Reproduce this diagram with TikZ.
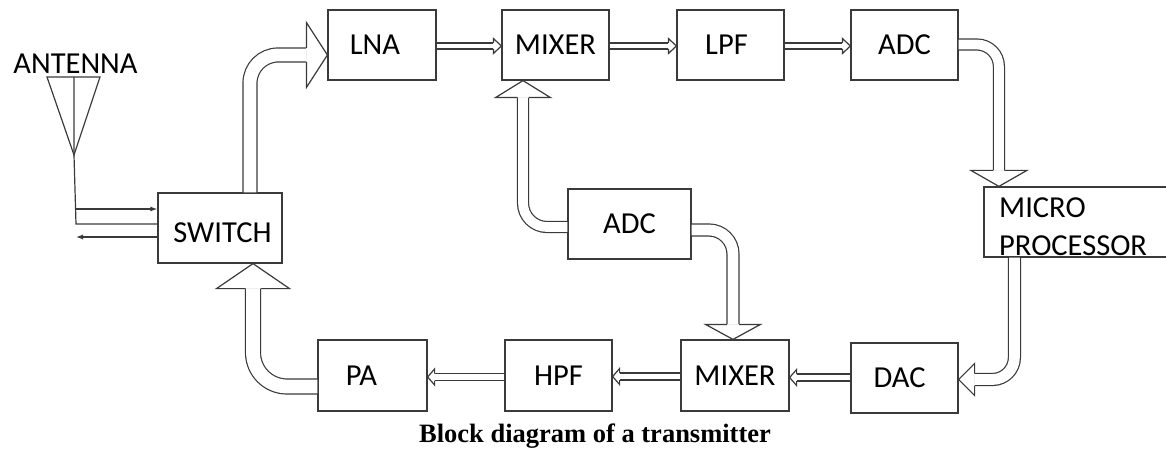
\documentclass[tikz,border=0pt]{standalone}
\usepackage{fontspec}
\setmainfont{Carlito}
\newfontfamily\capfont{Liberation Serif}
\usetikzlibrary{calc,arrows.meta}
\definecolor{lc}{HTML}{3A3A3A}
\tikzset{
  ln/.style={draw=lc, line width=1.2pt, line join=miter},
  box/.style={ln, rectangle, minimum height=70pt, inner sep=0pt, font=\fontsize{30.5}{37}\selectfont},
  lbl/.style={inner sep=0pt, font=\fontsize{30.5}{37}\selectfont},
  shaft/.style={draw=lc, line width=1.2pt, double=white, double distance=#1},
}
\newcommand\blockhead[5]{%
  \begin{scope}[shift={(#1)},rotate=#2]
    \fill[white] (0,0) -- (-#3,-#4) -- (-#3,#4) -- cycle;
    \draw[ln] (-#3,-#5) -- (-#3,-#4) -- (0,0) -- (-#3,#4) -- (-#3,#5);
  \end{scope}}
\begin{document}
\begin{tikzpicture}[x=1pt,y=-1pt]
\useasboundingbox (0,0) rectangle (1166,454);
\clip (0,0) rectangle (1166,454);
% boxes
\node[box, minimum width=108pt] (lna) at (382,45) {\kern-14pt LNA};
\node[box, minimum width=107pt] (mixa) at (555.5,45) {MIXER};
\node[box, minimum width=107pt] (lpf) at (730.5,45) {\kern-8pt LPF};
\node[box, minimum width=107pt] (adca) at (904.5,45) {ADC};
\node[box, minimum width=124pt] (sw) at (220,228) {\kern5pt\raisebox{-5pt}[\height][0pt]{SWITCH}};
\node[box, minimum width=123pt] (adcb) at (629.5,224) {ADC};
\node[box, minimum width=196pt] (mp) at (1082,222) {};
\node[lbl, anchor=base west] (mpa) at (999,218) {MICRO};
\node[lbl, anchor=base west] (mpb) at (999,255) {PROCESSOR};
\node[box, minimum width=107pt] (dac) at (904.5,378) {\kern-10pt DAC};
\node[box, minimum width=108pt, minimum height=71pt] (mixb) at (735,375.5) {MIXER};
\node[box, minimum width=107pt, minimum height=71pt] (hpf) at (558.5,375.5) {HPF};
\node[box, minimum width=109pt, minimum height=71pt] (pa) at (372.5,375.5) {\kern-22pt PA};
% antenna
\node[lbl] (antlabel) at (75.5,63.5) {ANTENNA};
\coordinate (ap) at (74,155);
\coordinate (at) at (74,77);
\coordinate (ab) at (76,224);
\coordinate (j1) at (76,209);
\coordinate (j2) at (76,237);
\draw[ln] (47,77) -- (100,77) -- (ap) -- cycle;
\draw[ln] (at) -- (ap) -- (ab) -- ($(sw.west)+(0,-4)$);
\draw[ln, -{Latex[length=7pt,width=5pt]}] (j1) -- ($(sw.west)+(0,-19)$);
\draw[ln, -{Latex[length=7pt,width=5pt]}] ($(sw.west)+(0,9)$) -- (j2);
% big block arrows
\draw[shaft=12.8pt, rounded corners=28pt, shorten >=21pt] ($(sw.north)+(30,0)$) |- ($(lna.west)+(0,10)$);
\blockhead{$(lna.west)+(0,10)$}{0}{21}{32.5}{7}
\draw[shaft=9.8pt, rounded corners=22pt, shorten >=16pt] ($(adca.east)+(0,-0.5)$) -| ($(mp.north west)+(15.5,0)$);
\blockhead{$(mp.north west)+(15.5,0)$}{-90}{16}{28}{5.5}
\draw[shaft=10.8pt, rounded corners=22pt, shorten >=16pt] ($(mp.south west)+(31,0)$) |- ($(dac.east)+(0,1.5)$);
\blockhead{$(dac.east)+(0,1.5)$}{180}{16}{16}{6}
\draw[shaft=9.8pt, rounded corners=24pt, shorten >=17pt] ($(adcb.west)+(0,3)$) -| ($(mixa.south)+(-32.5,0)$);
\blockhead{$(mixa.south)+(-32.5,0)$}{90}{17}{27.5}{5.5}
\draw[shaft=10.8pt, rounded corners=24pt, shorten >=15pt] ($(adcb.east)+(0,6)$) -| ($(mixb.north)+(-2,0)$);
\blockhead{$(mixb.north)+(-2,0)$}{-90}{15}{27.5}{6}
\draw[shaft=13.8pt, rounded corners=34pt, shorten >=25pt] ($(pa.west)+(0,11)$) -| ($(sw.south)+(33,0)$);
\blockhead{$(sw.south)+(33,0)$}{90}{25}{36.5}{7.5}
% small hollow arrows, top row
\draw[shaft=4.8pt, shorten >=8pt] ($(lna.east)+(0,1)$) -- ($(mixa.west)+(0,1)$);
\blockhead{$(mixa.west)+(0,1)$}{0}{8}{7.5}{3}
\draw[shaft=4.8pt, shorten >=8pt] ($(mixa.east)+(0,1)$) -- ($(lpf.west)+(0,1)$);
\blockhead{$(lpf.west)+(0,1)$}{0}{8}{7.5}{3}
\draw[shaft=4.8pt, shorten >=8pt] ($(lpf.east)+(0,1)$) -- ($(adca.west)+(0,1)$);
\blockhead{$(adca.west)+(0,1)$}{0}{8}{7.5}{3}
% small hollow arrows, bottom row
\draw[shaft=5.8pt, shorten >=7pt] ($(dac.west)+(0,-0.5)$) -- ($(mixb.east)+(0,2)$);
\blockhead{$(mixb.east)+(0,2)$}{180}{7}{8}{3.5}
\draw[shaft=5.8pt, shorten >=7pt] ($(mixb.west)+(0,1)$) -- ($(hpf.east)+(0,1)$);
\blockhead{$(hpf.east)+(0,1)$}{180}{7}{8}{3.5}
\draw[shaft=5.8pt, shorten >=7pt] ($(hpf.west)+(0,1.5)$) -- ($(pa.east)+(0,1.5)$);
\blockhead{$(pa.east)+(0,1.5)$}{180}{7}{8}{3.5}
% caption
\node[inner sep=0pt, anchor=base, font=\capfont\bfseries\fontsize{26.5}{30}\selectfont] (cap) at (595,442) {Block diagram of a transmitter};
\end{tikzpicture}
\end{document}
